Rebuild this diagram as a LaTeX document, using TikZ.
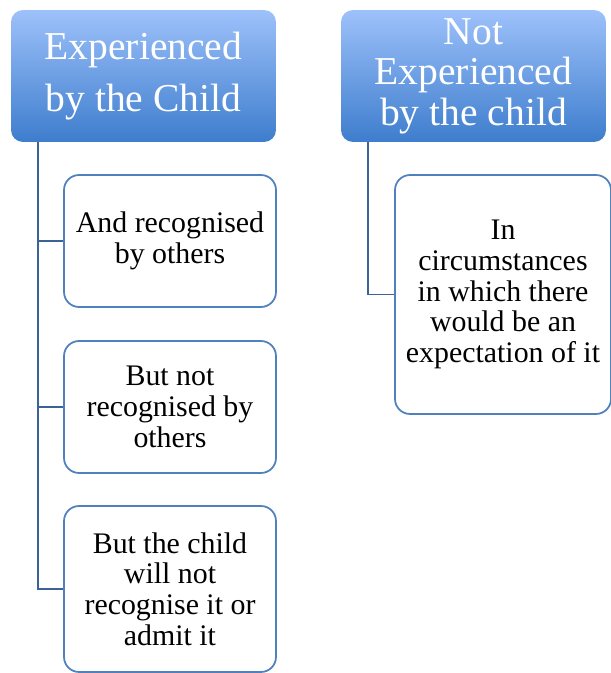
\documentclass[tikz,border=0pt]{standalone}
\usepackage{fontspec}
\setmainfont{Liberation Serif}
\definecolor{hdrtop}{RGB}{157,193,250}
\definecolor{hdrbot}{RGB}{62,125,205}
\definecolor{boxline}{RGB}{79,129,189}
\definecolor{linkline}{RGB}{60,98,150}
\tikzset{
  header/.style = {draw = none, rounded corners = 0.24cm, top color = hdrtop, bottom color = hdrbot, text = white, minimum width = 5.3cm, minimum height = 2.64cm, inner sep = 0pt, align = center, font = \fontsize{22.5}{23}\selectfont},
  item/.style = {draw = boxline, line width = 1pt, rounded corners = 0.3cm, fill = white, minimum width = 4.24cm, inner sep = 0pt, align = center, font = \fontsize{17}{17.5}\selectfont},
  link/.style = {draw = linkline, line width = 0.9pt}
}
\begin{document}
\begin{tikzpicture}[x = 0.02cm, y = -0.02cm]
\useasboundingbox (0,0) rectangle (610,673);
\node[header, font = \fontsize{22.5}{30}\selectfont] (hdrA) at (143.5,76) {Experienced\\by the Child};
\node[header] (hdrB) at (473.5,76) {Not\\Experienced\\by the child};
\node[item, minimum height = 2.64cm] (itemA1) at (170,241) {And recognised\\by others};
\node[item, minimum height = 2.64cm] (itemA2) at (170,407) {But not\\recognised by\\others};
\node[item, minimum height = 3.32cm] (itemA3) at (170,589) {But the child\\will not\\recognise it or\\admit it};
\node[item, minimum width = 4.32cm, minimum height = 4.78cm] (itemB1) at (503,294.5) {In\\circumstances\\in which there\\would be an\\expectation of it};
\coordinate (trunkA) at (38,142);
\coordinate (trunkB) at (368,142);
\foreach \nm in {itemA1,itemA2,itemA3} \draw[link] (trunkA) |- (\nm.west);
\draw[link] (trunkB) |- (itemB1.west);
\end{tikzpicture}
\end{document}
